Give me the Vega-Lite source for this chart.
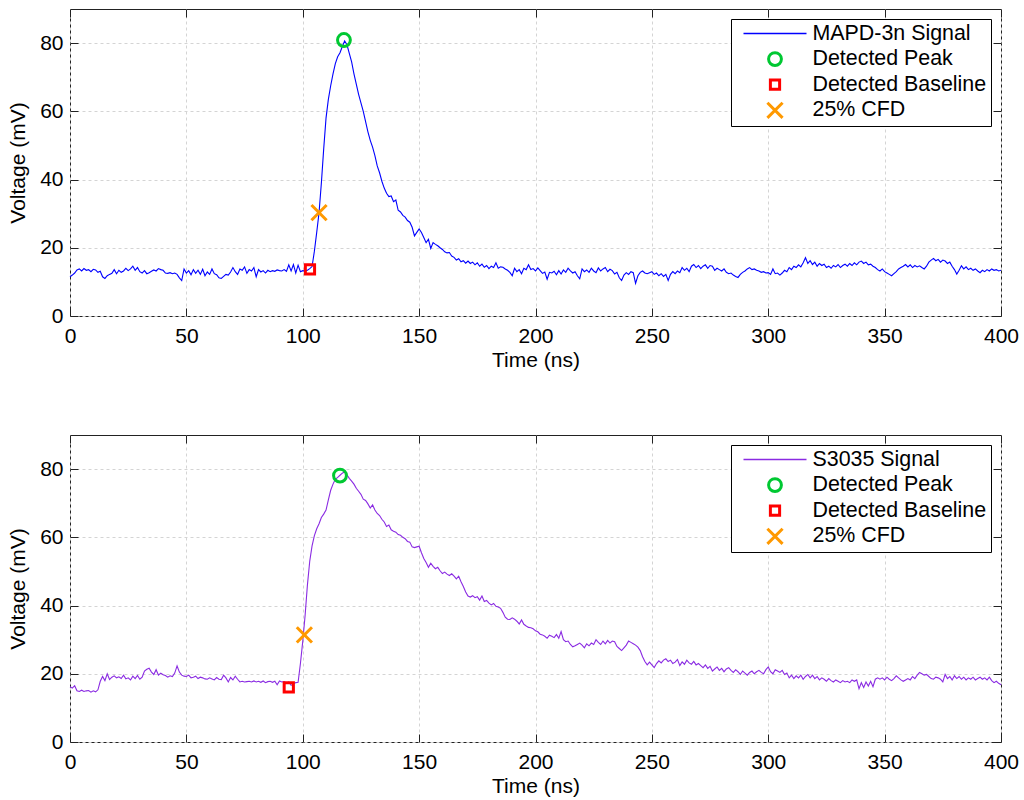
{
"$schema": "https://vega.github.io/schema/vega-lite/v6.json",
"padding": {"left": 7, "top": 8, "right": 5, "bottom": 5},
"config": {
 "font": "Liberation Sans",
 "view": {"stroke": "#222", "strokeWidth": 1},
 "axis": {"labelFont": "Liberation Sans", "labelFontSize": 21, "labelColor": "#000", "titleFont": "Liberation Sans", "titleFontSize": 21, "titleFontWeight": "normal", "titleColor": "#000", "tickColor": "#222", "tickSize": -8, "domain": false, "gridColor": "#d4d4d4", "gridDash": [3, 3], "gridWidth": 1, "labelFlush": false, "labelOverlap": false},
 "legend": {"orient": "top-right", "offset": 10, "padding": 4.5, "strokeColor": "#000", "fillColor": "#fff", "labelFontSize": 21.4, "labelFont": "Liberation Sans", "labelColor": "#000", "labelLimit": 400, "clipHeight": 20, "rowPadding": 3.6, "symbolOffset": 7, "labelOffset": 5}
},
"datasets": {
 "a": [{"t":0,"v":11.5},{"t":1,"v":12.0},{"t":2,"v":12.6},{"t":3,"v":13.5},{"t":4,"v":13.8},{"t":5,"v":13.2},{"t":6,"v":13.9},{"t":7,"v":13.4},{"t":8,"v":13.6},{"t":9,"v":13.0},{"t":10,"v":13.7},{"t":11,"v":13.5},{"t":12,"v":12.8},{"t":13,"v":13.1},{"t":14,"v":11.5},{"t":15,"v":11.0},{"t":16,"v":11.8},{"t":17,"v":12.2},{"t":18,"v":12.5},{"t":19,"v":13.6},{"t":20,"v":12.4},{"t":21,"v":13.4},{"t":22,"v":12.8},{"t":23,"v":13.2},{"t":24,"v":14.0},{"t":25,"v":13.3},{"t":26,"v":13.8},{"t":27,"v":14.6},{"t":28,"v":13.4},{"t":29,"v":14.2},{"t":30,"v":13.0},{"t":31,"v":12.6},{"t":32,"v":13.3},{"t":33,"v":12.4},{"t":34,"v":12.7},{"t":35,"v":13.1},{"t":36,"v":13.5},{"t":37,"v":13.2},{"t":38,"v":13.9},{"t":39,"v":13.6},{"t":40,"v":13.4},{"t":41,"v":12.6},{"t":42,"v":12.5},{"t":43,"v":12.7},{"t":44,"v":12.4},{"t":45,"v":12.6},{"t":46,"v":12.2},{"t":47,"v":11.2},{"t":48,"v":10.4},{"t":49,"v":13.8},{"t":50,"v":12.6},{"t":51,"v":13.3},{"t":52,"v":12.1},{"t":53,"v":13.6},{"t":54,"v":12.5},{"t":55,"v":13.4},{"t":56,"v":12.2},{"t":57,"v":13.7},{"t":58,"v":11.8},{"t":59,"v":12.9},{"t":60,"v":12.2},{"t":61,"v":13.8},{"t":62,"v":12.4},{"t":63,"v":12.1},{"t":64,"v":11.2},{"t":65,"v":11.0},{"t":66,"v":11.6},{"t":67,"v":12.2},{"t":68,"v":12.0},{"t":69,"v":12.9},{"t":70,"v":14.2},{"t":71,"v":13.0},{"t":72,"v":12.2},{"t":73,"v":13.8},{"t":74,"v":13.4},{"t":75,"v":14.4},{"t":76,"v":12.5},{"t":77,"v":13.6},{"t":78,"v":13.2},{"t":79,"v":14.2},{"t":80,"v":11.5},{"t":81,"v":13.6},{"t":82,"v":12.9},{"t":83,"v":13.3},{"t":84,"v":12.6},{"t":85,"v":13.4},{"t":86,"v":13.0},{"t":87,"v":13.3},{"t":88,"v":13.1},{"t":89,"v":13.5},{"t":90,"v":13.3},{"t":91,"v":13.2},{"t":92,"v":13.6},{"t":93,"v":13.1},{"t":94,"v":15.0},{"t":95,"v":13.2},{"t":96,"v":15.1},{"t":97,"v":12.6},{"t":98,"v":14.9},{"t":99,"v":13.0},{"t":100,"v":13.3},{"t":101,"v":13.2},{"t":102,"v":13.4},{"t":103,"v":13.9},{"t":104,"v":14.5},{"t":105,"v":19.0},{"t":106,"v":24.5},{"t":107,"v":30.3},{"t":108,"v":39.0},{"t":109,"v":49.0},{"t":110,"v":58.0},{"t":111,"v":63.5},{"t":112,"v":67.5},{"t":113,"v":71.0},{"t":114,"v":74.0},{"t":115,"v":76.0},{"t":116,"v":77.2},{"t":117,"v":79.0},{"t":118,"v":80.6},{"t":119,"v":79.5},{"t":120,"v":77.0},{"t":121,"v":74.5},{"t":122,"v":71.0},{"t":123,"v":68.0},{"t":124,"v":65.0},{"t":125,"v":62.5},{"t":126,"v":60.0},{"t":127,"v":57.0},{"t":128,"v":54.0},{"t":129,"v":51.5},{"t":130,"v":49.5},{"t":131,"v":47.0},{"t":132,"v":44.0},{"t":133,"v":42.0},{"t":134,"v":39.5},{"t":135,"v":37.5},{"t":136,"v":36.0},{"t":137,"v":35.0},{"t":138,"v":35.2},{"t":139,"v":33.5},{"t":140,"v":34.0},{"t":141,"v":31.0},{"t":142,"v":30.5},{"t":143,"v":29.5},{"t":144,"v":29.0},{"t":145,"v":28.0},{"t":146,"v":27.5},{"t":147,"v":26.0},{"t":148,"v":23.5},{"t":149,"v":24.5},{"t":150,"v":25.5},{"t":151,"v":24.5},{"t":152,"v":23.0},{"t":153,"v":21.5},{"t":154,"v":22.5},{"t":155,"v":19.8},{"t":156,"v":21.5},{"t":157,"v":21.0},{"t":158,"v":20.6},{"t":159,"v":20.0},{"t":160,"v":19.5},{"t":161,"v":18.8},{"t":162,"v":18.5},{"t":163,"v":18.6},{"t":164,"v":17.6},{"t":165,"v":17.2},{"t":166,"v":16.4},{"t":167,"v":16.8},{"t":168,"v":15.9},{"t":169,"v":16.2},{"t":170,"v":15.5},{"t":171,"v":16.1},{"t":172,"v":15.4},{"t":173,"v":15.8},{"t":174,"v":15.0},{"t":175,"v":15.6},{"t":176,"v":14.6},{"t":177,"v":15.2},{"t":178,"v":14.3},{"t":179,"v":14.8},{"t":180,"v":13.9},{"t":181,"v":14.6},{"t":182,"v":14.2},{"t":183,"v":15.6},{"t":184,"v":14.0},{"t":185,"v":14.4},{"t":186,"v":14.3},{"t":187,"v":13.8},{"t":188,"v":13.4},{"t":189,"v":12.8},{"t":190,"v":11.8},{"t":191,"v":14.0},{"t":192,"v":13.0},{"t":193,"v":13.6},{"t":194,"v":12.4},{"t":195,"v":14.0},{"t":196,"v":13.6},{"t":197,"v":15.0},{"t":198,"v":13.6},{"t":199,"v":13.9},{"t":200,"v":13.2},{"t":201,"v":14.1},{"t":202,"v":13.3},{"t":203,"v":12.5},{"t":204,"v":12.9},{"t":205,"v":10.8},{"t":206,"v":12.8},{"t":207,"v":12.6},{"t":208,"v":13.1},{"t":209,"v":12.1},{"t":210,"v":13.3},{"t":211,"v":12.3},{"t":212,"v":13.5},{"t":213,"v":12.8},{"t":214,"v":14.0},{"t":215,"v":13.2},{"t":216,"v":12.6},{"t":217,"v":13.0},{"t":218,"v":11.8},{"t":219,"v":10.9},{"t":220,"v":13.8},{"t":221,"v":13.0},{"t":222,"v":13.5},{"t":223,"v":12.8},{"t":224,"v":14.0},{"t":225,"v":13.2},{"t":226,"v":12.7},{"t":227,"v":14.1},{"t":228,"v":13.2},{"t":229,"v":13.8},{"t":230,"v":14.2},{"t":231,"v":13.0},{"t":232,"v":13.7},{"t":233,"v":13.3},{"t":234,"v":12.3},{"t":235,"v":12.8},{"t":236,"v":11.2},{"t":237,"v":10.4},{"t":238,"v":12.0},{"t":239,"v":12.7},{"t":240,"v":12.2},{"t":241,"v":13.0},{"t":242,"v":12.7},{"t":243,"v":9.6},{"t":244,"v":11.8},{"t":245,"v":12.8},{"t":246,"v":13.2},{"t":247,"v":12.6},{"t":248,"v":12.4},{"t":249,"v":12.7},{"t":250,"v":13.0},{"t":251,"v":12.2},{"t":252,"v":12.6},{"t":253,"v":11.8},{"t":254,"v":12.4},{"t":255,"v":11.6},{"t":256,"v":12.2},{"t":257,"v":10.4},{"t":258,"v":12.2},{"t":259,"v":13.0},{"t":260,"v":12.4},{"t":261,"v":13.2},{"t":262,"v":12.7},{"t":263,"v":14.2},{"t":264,"v":13.4},{"t":265,"v":14.0},{"t":266,"v":13.0},{"t":267,"v":14.6},{"t":268,"v":15.1},{"t":269,"v":14.2},{"t":270,"v":14.8},{"t":271,"v":13.9},{"t":272,"v":14.6},{"t":273,"v":15.0},{"t":274,"v":14.0},{"t":275,"v":14.8},{"t":276,"v":14.6},{"t":277,"v":13.4},{"t":278,"v":14.0},{"t":279,"v":13.6},{"t":280,"v":13.2},{"t":281,"v":13.8},{"t":282,"v":12.8},{"t":283,"v":12.4},{"t":284,"v":12.6},{"t":285,"v":12.0},{"t":286,"v":11.6},{"t":287,"v":11.3},{"t":288,"v":12.2},{"t":289,"v":12.8},{"t":290,"v":13.2},{"t":291,"v":13.8},{"t":292,"v":14.2},{"t":293,"v":13.6},{"t":294,"v":13.8},{"t":295,"v":13.4},{"t":296,"v":13.2},{"t":297,"v":12.8},{"t":298,"v":13.0},{"t":299,"v":12.6},{"t":300,"v":12.7},{"t":301,"v":12.2},{"t":302,"v":13.8},{"t":303,"v":12.4},{"t":304,"v":12.6},{"t":305,"v":12.0},{"t":306,"v":12.6},{"t":307,"v":13.4},{"t":308,"v":13.0},{"t":309,"v":14.2},{"t":310,"v":13.6},{"t":311,"v":14.6},{"t":312,"v":14.2},{"t":313,"v":15.0},{"t":314,"v":14.4},{"t":315,"v":15.6},{"t":316,"v":17.1},{"t":317,"v":15.4},{"t":318,"v":16.2},{"t":319,"v":15.1},{"t":320,"v":15.8},{"t":321,"v":14.6},{"t":322,"v":15.4},{"t":323,"v":14.8},{"t":324,"v":15.2},{"t":325,"v":14.2},{"t":326,"v":14.6},{"t":327,"v":14.0},{"t":328,"v":14.8},{"t":329,"v":14.4},{"t":330,"v":15.1},{"t":331,"v":14.2},{"t":332,"v":14.8},{"t":333,"v":15.2},{"t":334,"v":14.6},{"t":335,"v":15.4},{"t":336,"v":14.8},{"t":337,"v":15.6},{"t":338,"v":15.0},{"t":339,"v":15.8},{"t":340,"v":16.1},{"t":341,"v":15.4},{"t":342,"v":15.8},{"t":343,"v":15.0},{"t":344,"v":15.2},{"t":345,"v":14.6},{"t":346,"v":14.2},{"t":347,"v":13.6},{"t":348,"v":13.2},{"t":349,"v":13.8},{"t":350,"v":13.0},{"t":351,"v":12.6},{"t":352,"v":12.2},{"t":353,"v":11.8},{"t":354,"v":12.4},{"t":355,"v":13.0},{"t":356,"v":13.8},{"t":357,"v":14.2},{"t":358,"v":14.6},{"t":359,"v":15.1},{"t":360,"v":14.4},{"t":361,"v":15.0},{"t":362,"v":14.2},{"t":363,"v":14.8},{"t":364,"v":14.4},{"t":365,"v":14.7},{"t":366,"v":14.2},{"t":367,"v":13.8},{"t":368,"v":14.6},{"t":369,"v":15.8},{"t":370,"v":16.4},{"t":371,"v":16.9},{"t":372,"v":16.2},{"t":373,"v":16.6},{"t":374,"v":15.8},{"t":375,"v":16.4},{"t":376,"v":16.1},{"t":377,"v":15.4},{"t":378,"v":15.8},{"t":379,"v":14.6},{"t":380,"v":13.6},{"t":381,"v":12.3},{"t":382,"v":13.4},{"t":383,"v":14.7},{"t":384,"v":13.8},{"t":385,"v":14.4},{"t":386,"v":13.6},{"t":387,"v":14.0},{"t":388,"v":13.4},{"t":389,"v":13.8},{"t":390,"v":13.2},{"t":391,"v":12.7},{"t":392,"v":13.4},{"t":393,"v":13.0},{"t":394,"v":13.6},{"t":395,"v":13.2},{"t":396,"v":13.8},{"t":397,"v":13.4},{"t":398,"v":13.6},{"t":399,"v":13.2},{"t":400,"v":13.4}],
 "b": [{"t":0,"v":16.2},{"t":1,"v":15.8},{"t":2,"v":16.5},{"t":3,"v":15.0},{"t":4,"v":14.8},{"t":5,"v":15.2},{"t":6,"v":14.8},{"t":7,"v":15.0},{"t":8,"v":15.1},{"t":9,"v":14.6},{"t":10,"v":15.0},{"t":11,"v":14.7},{"t":12,"v":15.3},{"t":13,"v":17.8},{"t":14,"v":19.2},{"t":15,"v":18.0},{"t":16,"v":20.0},{"t":17,"v":18.3},{"t":18,"v":19.0},{"t":19,"v":19.4},{"t":20,"v":18.8},{"t":21,"v":19.1},{"t":22,"v":18.6},{"t":23,"v":19.6},{"t":24,"v":18.5},{"t":25,"v":18.8},{"t":26,"v":18.2},{"t":27,"v":19.3},{"t":28,"v":18.6},{"t":29,"v":19.5},{"t":30,"v":18.4},{"t":31,"v":19.0},{"t":32,"v":20.8},{"t":33,"v":21.3},{"t":34,"v":21.6},{"t":35,"v":20.5},{"t":36,"v":19.8},{"t":37,"v":21.2},{"t":38,"v":19.6},{"t":39,"v":20.2},{"t":40,"v":19.7},{"t":41,"v":19.5},{"t":42,"v":19.0},{"t":43,"v":19.4},{"t":44,"v":19.2},{"t":45,"v":20.2},{"t":46,"v":22.3},{"t":47,"v":20.5},{"t":48,"v":19.6},{"t":49,"v":19.3},{"t":50,"v":19.2},{"t":51,"v":19.6},{"t":52,"v":18.8},{"t":53,"v":19.0},{"t":54,"v":19.3},{"t":55,"v":18.6},{"t":56,"v":19.0},{"t":57,"v":18.8},{"t":58,"v":18.5},{"t":59,"v":18.4},{"t":60,"v":18.8},{"t":61,"v":18.5},{"t":62,"v":18.2},{"t":63,"v":18.9},{"t":64,"v":18.4},{"t":65,"v":18.3},{"t":66,"v":19.6},{"t":67,"v":18.8},{"t":68,"v":17.6},{"t":69,"v":18.9},{"t":70,"v":18.2},{"t":71,"v":19.3},{"t":72,"v":18.4},{"t":73,"v":17.6},{"t":74,"v":17.8},{"t":75,"v":17.6},{"t":76,"v":17.7},{"t":77,"v":17.8},{"t":78,"v":17.6},{"t":79,"v":17.9},{"t":80,"v":17.6},{"t":81,"v":17.8},{"t":82,"v":17.5},{"t":83,"v":17.9},{"t":84,"v":17.4},{"t":85,"v":17.7},{"t":86,"v":17.8},{"t":87,"v":17.5},{"t":88,"v":17.8},{"t":89,"v":16.8},{"t":90,"v":17.9},{"t":91,"v":17.6},{"t":92,"v":17.7},{"t":93,"v":17.3},{"t":94,"v":17.6},{"t":95,"v":16.6},{"t":96,"v":17.0},{"t":97,"v":17.4},{"t":98,"v":17.5},{"t":99,"v":23.0},{"t":100,"v":29.5},{"t":101,"v":37.0},{"t":102,"v":46.0},{"t":103,"v":53.0},{"t":104,"v":57.5},{"t":105,"v":60.5},{"t":106,"v":62.5},{"t":107,"v":64.0},{"t":108,"v":65.8},{"t":109,"v":66.8},{"t":110,"v":68.0},{"t":111,"v":71.0},{"t":112,"v":73.8},{"t":113,"v":75.6},{"t":114,"v":77.0},{"t":115,"v":77.6},{"t":116,"v":78.2},{"t":117,"v":78.8},{"t":118,"v":79.2},{"t":119,"v":78.3},{"t":120,"v":77.3},{"t":121,"v":76.5},{"t":122,"v":75.6},{"t":123,"v":74.4},{"t":124,"v":73.5},{"t":125,"v":72.6},{"t":126,"v":71.2},{"t":127,"v":70.8},{"t":128,"v":69.8},{"t":129,"v":68.6},{"t":130,"v":69.5},{"t":131,"v":68.0},{"t":132,"v":67.0},{"t":133,"v":66.4},{"t":134,"v":65.3},{"t":135,"v":64.5},{"t":136,"v":63.2},{"t":137,"v":63.6},{"t":138,"v":62.2},{"t":139,"v":61.8},{"t":140,"v":61.5},{"t":141,"v":60.8},{"t":142,"v":60.6},{"t":143,"v":60.0},{"t":144,"v":59.6},{"t":145,"v":58.8},{"t":146,"v":58.6},{"t":147,"v":57.2},{"t":148,"v":57.0},{"t":149,"v":57.2},{"t":150,"v":57.4},{"t":151,"v":55.5},{"t":152,"v":53.8},{"t":153,"v":52.6},{"t":154,"v":51.2},{"t":155,"v":52.4},{"t":156,"v":51.5},{"t":157,"v":50.8},{"t":158,"v":51.2},{"t":159,"v":50.2},{"t":160,"v":49.4},{"t":161,"v":49.8},{"t":162,"v":49.2},{"t":163,"v":48.8},{"t":164,"v":49.3},{"t":165,"v":48.6},{"t":166,"v":47.8},{"t":167,"v":48.6},{"t":168,"v":47.0},{"t":169,"v":45.6},{"t":170,"v":44.0},{"t":171,"v":42.8},{"t":172,"v":42.5},{"t":173,"v":42.9},{"t":174,"v":42.3},{"t":175,"v":42.6},{"t":176,"v":41.6},{"t":177,"v":42.8},{"t":178,"v":41.2},{"t":179,"v":41.5},{"t":180,"v":40.7},{"t":181,"v":40.2},{"t":182,"v":40.6},{"t":183,"v":39.8},{"t":184,"v":39.6},{"t":185,"v":39.2},{"t":186,"v":38.0},{"t":187,"v":36.6},{"t":188,"v":36.0},{"t":189,"v":35.9},{"t":190,"v":36.4},{"t":191,"v":36.0},{"t":192,"v":35.4},{"t":193,"v":34.6},{"t":194,"v":35.8},{"t":195,"v":34.5},{"t":196,"v":34.0},{"t":197,"v":33.6},{"t":198,"v":33.5},{"t":199,"v":33.2},{"t":200,"v":32.6},{"t":201,"v":32.3},{"t":202,"v":31.6},{"t":203,"v":31.4},{"t":204,"v":31.0},{"t":205,"v":30.4},{"t":206,"v":31.3},{"t":207,"v":31.0},{"t":208,"v":30.6},{"t":209,"v":31.5},{"t":210,"v":30.4},{"t":211,"v":32.4},{"t":212,"v":30.0},{"t":213,"v":29.4},{"t":214,"v":29.6},{"t":215,"v":28.6},{"t":216,"v":27.9},{"t":217,"v":28.2},{"t":218,"v":28.6},{"t":219,"v":29.0},{"t":220,"v":28.4},{"t":221,"v":27.6},{"t":222,"v":28.8},{"t":223,"v":28.2},{"t":224,"v":29.0},{"t":225,"v":28.6},{"t":226,"v":30.0},{"t":227,"v":29.2},{"t":228,"v":28.6},{"t":229,"v":29.6},{"t":230,"v":28.8},{"t":231,"v":29.8},{"t":232,"v":29.0},{"t":233,"v":29.6},{"t":234,"v":29.4},{"t":235,"v":28.0},{"t":236,"v":27.4},{"t":237,"v":26.8},{"t":238,"v":27.6},{"t":239,"v":28.4},{"t":240,"v":29.6},{"t":241,"v":29.2},{"t":242,"v":28.8},{"t":243,"v":28.4},{"t":244,"v":27.8},{"t":245,"v":26.8},{"t":246,"v":25.0},{"t":247,"v":23.6},{"t":248,"v":22.6},{"t":249,"v":23.4},{"t":250,"v":22.6},{"t":251,"v":21.8},{"t":252,"v":23.0},{"t":253,"v":23.8},{"t":254,"v":23.2},{"t":255,"v":24.0},{"t":256,"v":24.4},{"t":257,"v":23.6},{"t":258,"v":24.0},{"t":259,"v":23.0},{"t":260,"v":23.4},{"t":261,"v":24.2},{"t":262,"v":22.4},{"t":263,"v":23.5},{"t":264,"v":22.8},{"t":265,"v":24.0},{"t":266,"v":23.2},{"t":267,"v":22.8},{"t":268,"v":23.6},{"t":269,"v":22.6},{"t":270,"v":23.0},{"t":271,"v":22.4},{"t":272,"v":21.8},{"t":273,"v":22.6},{"t":274,"v":21.6},{"t":275,"v":22.2},{"t":276,"v":20.8},{"t":277,"v":21.4},{"t":278,"v":22.0},{"t":279,"v":21.0},{"t":280,"v":21.6},{"t":281,"v":20.6},{"t":282,"v":21.4},{"t":283,"v":21.8},{"t":284,"v":21.0},{"t":285,"v":20.4},{"t":286,"v":21.2},{"t":287,"v":20.6},{"t":288,"v":19.8},{"t":289,"v":20.8},{"t":290,"v":20.2},{"t":291,"v":19.6},{"t":292,"v":20.4},{"t":293,"v":20.8},{"t":294,"v":20.0},{"t":295,"v":20.6},{"t":296,"v":21.0},{"t":297,"v":20.4},{"t":298,"v":20.0},{"t":299,"v":21.2},{"t":300,"v":22.0},{"t":301,"v":20.6},{"t":302,"v":20.0},{"t":303,"v":21.2},{"t":304,"v":20.8},{"t":305,"v":20.4},{"t":306,"v":21.0},{"t":307,"v":19.8},{"t":308,"v":20.2},{"t":309,"v":18.8},{"t":310,"v":19.6},{"t":311,"v":18.6},{"t":312,"v":19.4},{"t":313,"v":18.8},{"t":314,"v":19.6},{"t":315,"v":18.4},{"t":316,"v":19.2},{"t":317,"v":19.8},{"t":318,"v":18.8},{"t":319,"v":19.6},{"t":320,"v":18.6},{"t":321,"v":19.2},{"t":322,"v":18.2},{"t":323,"v":18.8},{"t":324,"v":18.4},{"t":325,"v":17.8},{"t":326,"v":18.6},{"t":327,"v":18.0},{"t":328,"v":17.6},{"t":329,"v":18.2},{"t":330,"v":17.8},{"t":331,"v":17.4},{"t":332,"v":18.0},{"t":333,"v":17.6},{"t":334,"v":17.8},{"t":335,"v":17.4},{"t":336,"v":18.2},{"t":337,"v":17.8},{"t":338,"v":18.2},{"t":339,"v":15.6},{"t":340,"v":17.4},{"t":341,"v":16.0},{"t":342,"v":17.6},{"t":343,"v":16.4},{"t":344,"v":17.8},{"t":345,"v":16.2},{"t":346,"v":18.4},{"t":347,"v":18.8},{"t":348,"v":18.4},{"t":349,"v":18.8},{"t":350,"v":18.2},{"t":351,"v":19.0},{"t":352,"v":18.4},{"t":353,"v":18.0},{"t":354,"v":18.6},{"t":355,"v":19.4},{"t":356,"v":18.8},{"t":357,"v":18.2},{"t":358,"v":17.8},{"t":359,"v":18.2},{"t":360,"v":18.6},{"t":361,"v":18.2},{"t":362,"v":19.2},{"t":363,"v":18.6},{"t":364,"v":19.6},{"t":365,"v":20.4},{"t":366,"v":20.0},{"t":367,"v":19.6},{"t":368,"v":19.8},{"t":369,"v":19.2},{"t":370,"v":18.6},{"t":371,"v":18.4},{"t":372,"v":19.0},{"t":373,"v":18.8},{"t":374,"v":18.4},{"t":375,"v":17.6},{"t":376,"v":19.8},{"t":377,"v":18.6},{"t":378,"v":19.2},{"t":379,"v":18.2},{"t":380,"v":19.4},{"t":381,"v":18.6},{"t":382,"v":19.2},{"t":383,"v":18.4},{"t":384,"v":19.0},{"t":385,"v":18.2},{"t":386,"v":18.8},{"t":387,"v":18.4},{"t":388,"v":19.0},{"t":389,"v":18.2},{"t":390,"v":18.6},{"t":391,"v":19.0},{"t":392,"v":18.4},{"t":393,"v":18.8},{"t":394,"v":18.2},{"t":395,"v":19.0},{"t":396,"v":18.0},{"t":397,"v":17.4},{"t":398,"v":17.8},{"t":399,"v":17.2},{"t":400,"v":16.8}],
 "pa": [{"t":117.7,"v":80.9,"label":"Detected Peak"},{"t":103.1,"v":13.7,"label":"Detected Baseline"},{"t":107,"v":30.3,"label":"25% CFD"}],
 "pb": [{"t":116,"v":78.1,"label":"Detected Peak"},{"t":94,"v":16.0,"label":"Detected Baseline"},{"t":100.7,"v":31.4,"label":"25% CFD"}]
},
"spacing": 63,
"resolve": {"scale": {"x": "independent", "y": "independent", "color": "independent", "shape": "independent", "size": "independent", "strokeWidth": "independent"}, "legend": {"color": "independent", "shape": "independent", "size": "independent", "strokeWidth": "independent"}},
"vconcat": [
 {
  "width": 931, "height": 307,
  "layer": [
   {"data": {"name": "a"}, "mark": {"type": "line", "color": "#0000ff", "strokeWidth": 1.1},
    "encoding": {
     "x": {"field": "t", "type": "quantitative", "scale": {"domain": [0, 400], "nice": false}, "axis": {"orient": "bottom", "values": [0, 50, 100, 150, 200, 250, 300, 350, 400], "title": "Time (ns)", "labelPadding": 17.5, "titlePadding": 3, "minExtent": 30, "maxExtent": 30, "grid": true}},
     "y": {"field": "v", "type": "quantitative", "scale": {"domain": [0, 90], "nice": false}, "axis": {"orient": "left", "values": [0, 20, 40, 60, 80], "title": "Voltage (mV)", "labelPadding": 15, "titlePadding": 11.5, "minExtent": 30, "maxExtent": 30, "grid": true}}
    }},
   {"data": {"name": "pa"}, "mark": {"type": "point", "filled": false, "opacity": 1},
    "encoding": {
     "x": {"field": "t", "type": "quantitative", "axis": {"orient": "top", "values": [0, 50, 100, 150, 200, 250, 300, 350, 400], "labels": false, "title": null, "grid": false}},
     "y": {"field": "v", "type": "quantitative", "axis": {"orient": "right", "values": [0, 20, 40, 60, 80], "labels": false, "title": null, "grid": false}},
     "color": {"field": "label", "type": "nominal", "scale": {"domain": ["MAPD-3n Signal", "Detected Peak", "Detected Baseline", "25% CFD"], "range": ["#0000ff", "#00c832", "#ff0000", "#ff9900"]}, "legend": {"title": null}},
     "shape": {"field": "label", "type": "nominal", "scale": {"domain": ["MAPD-3n Signal", "Detected Peak", "Detected Baseline", "25% CFD"], "range": ["M-1,0L1,0", "circle", "square", "M-1,-1L1,1M-1,1L1,-1"]}, "legend": {"title": null}},
     "size": {"field": "label", "type": "nominal", "scale": {"type": "ordinal", "domain": ["MAPD-3n Signal", "Detected Peak", "Detected Baseline", "25% CFD"], "range": [3969, 165, 85, 230]}, "legend": {"title": null}},
     "strokeWidth": {"field": "label", "type": "nominal", "scale": {"type": "ordinal", "domain": ["MAPD-3n Signal", "Detected Peak", "Detected Baseline", "25% CFD"], "range": [1.4, 3, 3, 3]}, "legend": {"title": null}}
    }}
  ]
 },
 {
  "width": 931, "height": 307,
  "layer": [
   {"data": {"name": "b"}, "mark": {"type": "line", "color": "#8a2be2", "strokeWidth": 1.1},
    "encoding": {
     "x": {"field": "t", "type": "quantitative", "scale": {"domain": [0, 400], "nice": false}, "axis": {"orient": "bottom", "values": [0, 50, 100, 150, 200, 250, 300, 350, 400], "title": "Time (ns)", "labelPadding": 17.5, "titlePadding": 3, "minExtent": 30, "maxExtent": 30, "grid": true}},
     "y": {"field": "v", "type": "quantitative", "scale": {"domain": [0, 90], "nice": false}, "axis": {"orient": "left", "values": [0, 20, 40, 60, 80], "title": "Voltage (mV)", "labelPadding": 15, "titlePadding": 11.5, "minExtent": 30, "maxExtent": 30, "grid": true}}
    }},
   {"data": {"name": "pb"}, "mark": {"type": "point", "filled": false, "opacity": 1},
    "encoding": {
     "x": {"field": "t", "type": "quantitative", "axis": {"orient": "top", "values": [0, 50, 100, 150, 200, 250, 300, 350, 400], "labels": false, "title": null, "grid": false}},
     "y": {"field": "v", "type": "quantitative", "axis": {"orient": "right", "values": [0, 20, 40, 60, 80], "labels": false, "title": null, "grid": false}},
     "color": {"field": "label", "type": "nominal", "scale": {"domain": ["S3035 Signal", "Detected Peak", "Detected Baseline", "25% CFD"], "range": ["#8a2be2", "#00c832", "#ff0000", "#ff9900"]}, "legend": {"title": null}},
     "shape": {"field": "label", "type": "nominal", "scale": {"domain": ["S3035 Signal", "Detected Peak", "Detected Baseline", "25% CFD"], "range": ["M-1,0L1,0", "circle", "square", "M-1,-1L1,1M-1,1L1,-1"]}, "legend": {"title": null}},
     "size": {"field": "label", "type": "nominal", "scale": {"type": "ordinal", "domain": ["S3035 Signal", "Detected Peak", "Detected Baseline", "25% CFD"], "range": [3969, 165, 85, 230]}, "legend": {"title": null}},
     "strokeWidth": {"field": "label", "type": "nominal", "scale": {"type": "ordinal", "domain": ["S3035 Signal", "Detected Peak", "Detected Baseline", "25% CFD"], "range": [1.4, 3, 3, 3]}, "legend": {"title": null}}
    }}
  ]
 }
]
}
